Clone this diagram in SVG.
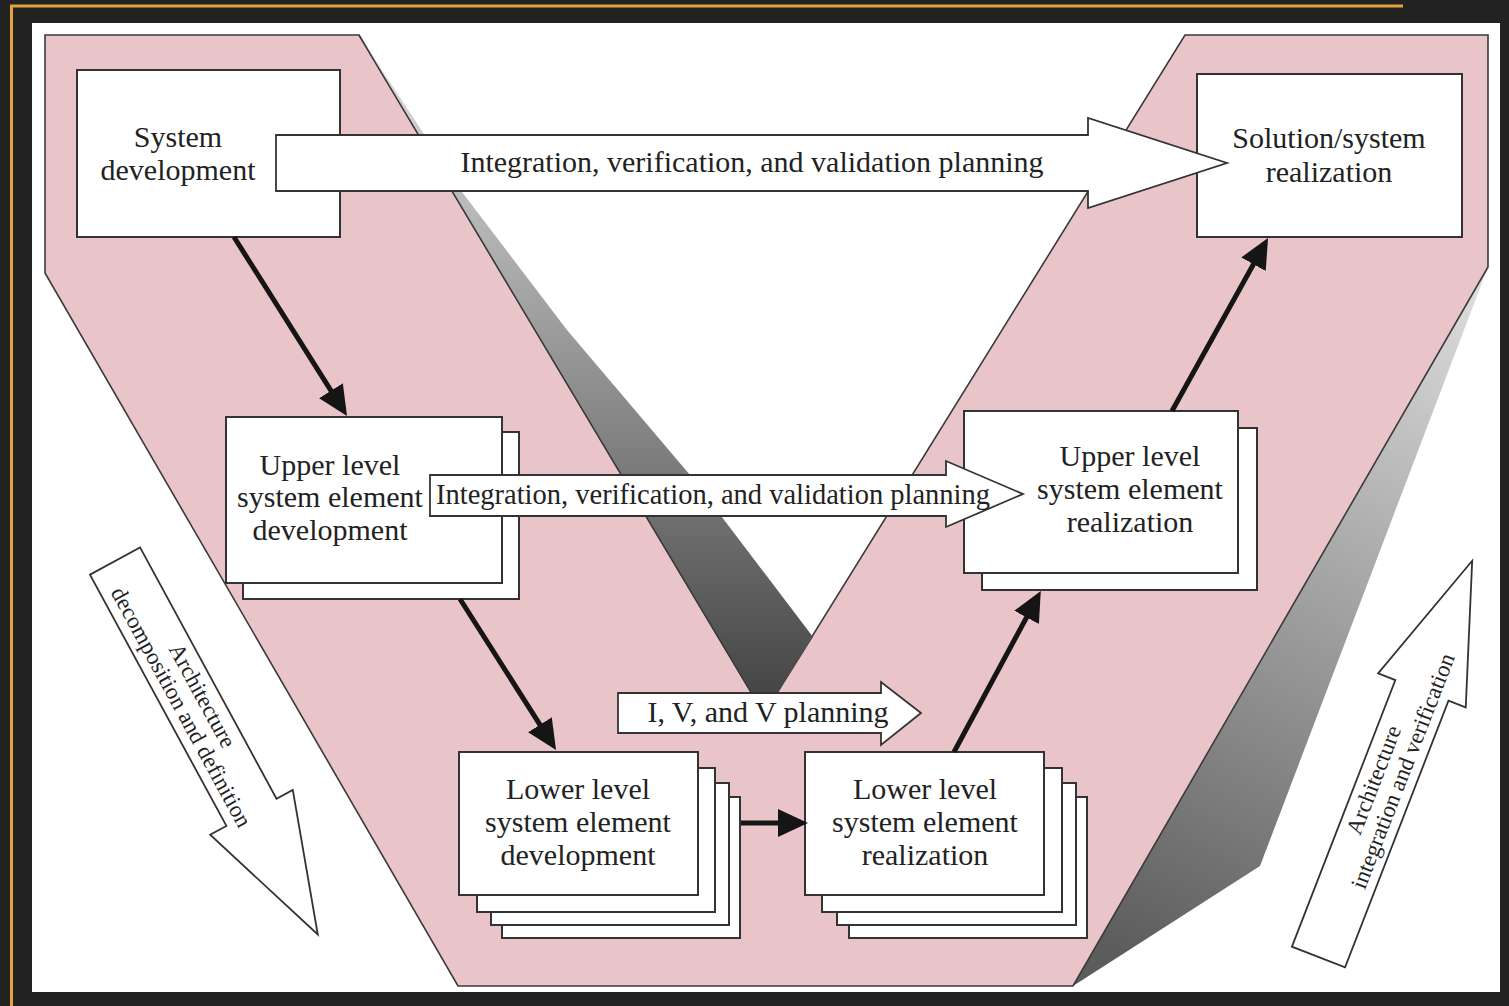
<svg xmlns="http://www.w3.org/2000/svg" width="1509" height="1006" viewBox="0 0 1509 1006">
  <style>
    .box { fill: #ffffff; stroke: #333333; stroke-width: 2; }
    .blk { fill: #ffffff; stroke: #333333; stroke-width: 1.8; stroke-linejoin: miter; }
    .lbl { font-family: "Liberation Serif", "Times New Roman", serif; font-size: 30px; fill: #222222; text-anchor: middle; }
    .mid { font-size: 28.5px; }
    .rot { font-family: "Liberation Serif", "Times New Roman", serif; font-size: 23px; fill: #222222; text-anchor: middle; }
    .con { stroke: #151515; stroke-width: 5; fill: none; marker-end: url(#ah); }
  </style>
  <defs>
    <marker id="ah" markerUnits="userSpaceOnUse" markerWidth="30" markerHeight="28" refX="18" refY="14" orient="auto">
      <path d="M0,0 L30,14 L0,28 z" fill="#151515"/>
    </marker>
    <linearGradient id="gV" gradientUnits="userSpaceOnUse" x1="0" y1="35" x2="0" y2="700">
      <stop offset="0" stop-color="#e2e2e2"/>
      <stop offset="1" stop-color="#444444"/>
    </linearGradient>
    <linearGradient id="gR" gradientUnits="userSpaceOnUse" x1="1480" y1="280" x2="1130" y2="960">
      <stop offset="0" stop-color="#dedede"/>
      <stop offset="1" stop-color="#5c5c5c"/>
    </linearGradient>
  </defs>

  <g id="background">
    <rect x="0" y="0" width="1509" height="1006" fill="#222222"/>
    <line x1="10" y1="6" x2="1403" y2="6" stroke="#e3a33e" stroke-width="3"/>
    <line x1="11.5" y1="5" x2="11.5" y2="1006" stroke="#e3a33e" stroke-width="3"/>
    <rect x="32" y="23" width="1468" height="969" fill="#ffffff"/>
  </g>

  <g id="v-shape">
    <polygon points="1488,267 1260,866 1073,986" fill="url(#gR)"/>
    <polygon points="45,35 359,35 764,714 1185,35 1488,35 1488,267 1073,986 458,986 45,273" fill="#e9c4c8" stroke="#3a3a3a" stroke-width="1.6" stroke-linejoin="miter"/>
    <polygon points="359,35 462,192 567,330 690,475 813,637 764,714" fill="url(#gV)"/>
    <line x1="359" y1="35" x2="764" y2="714" stroke="#3a3a3a" stroke-width="1.4"/>
  </g>

  <g id="system-development">
    <rect class="box" x="77" y="70" width="263" height="167"/>
    <text class="lbl" x="178" y="147">System</text>
    <text class="lbl" x="178" y="180">development</text>
  </g>

  <g id="solution-system-realization">
    <rect class="box" x="1197" y="74" width="265" height="163"/>
    <text class="lbl" x="1329" y="148">Solution/system</text>
    <text class="lbl" x="1329" y="182">realization</text>
  </g>

  <g id="upper-level-development">
    <rect class="box" x="243" y="432" width="276" height="167"/>
    <rect class="box" x="226" y="417" width="276" height="166"/>
    <text class="lbl" x="330" y="475">Upper level</text>
    <text class="lbl" x="330" y="507">system element</text>
    <text class="lbl" x="330" y="540">development</text>
  </g>

  <g id="upper-level-realization">
    <rect class="box" x="982" y="428" width="275" height="162"/>
    <rect class="box" x="964" y="411" width="274" height="162"/>
    <text class="lbl" x="1130" y="466">Upper level</text>
    <text class="lbl" x="1130" y="499">system element</text>
    <text class="lbl" x="1130" y="532">realization</text>
  </g>

  <g id="lower-level-development">
    <rect class="box" x="502" y="797" width="238" height="141"/>
    <rect class="box" x="491" y="783" width="238" height="142"/>
    <rect class="box" x="477" y="768" width="238" height="144"/>
    <rect class="box" x="459" y="752" width="239" height="143"/>
    <text class="lbl" x="578" y="799">Lower level</text>
    <text class="lbl" x="578" y="832">system element</text>
    <text class="lbl" x="578" y="865">development</text>
  </g>

  <g id="lower-level-realization">
    <rect class="box" x="849" y="797" width="238" height="141"/>
    <rect class="box" x="837" y="783" width="239" height="142"/>
    <rect class="box" x="822" y="768" width="240" height="144"/>
    <rect class="box" x="805" y="752" width="239" height="143"/>
    <text class="lbl" x="925" y="799">Lower level</text>
    <text class="lbl" x="925" y="832">system element</text>
    <text class="lbl" x="925" y="865">realization</text>
  </g>

  <g id="connectors">
    <line class="con" x1="234" y1="237" x2="340.6" y2="405.9"/>
    <line class="con" x1="460" y1="599" x2="549.6" y2="739.9"/>
    <line class="con" x1="741" y1="823" x2="796" y2="823"/>
    <line class="con" x1="954" y1="752" x2="1035.1" y2="601.5"/>
    <line class="con" x1="1172" y1="411" x2="1262.2" y2="248.5"/>
  </g>

  <g id="ivv-planning-top">
    <polygon class="blk" points="276,135 1088,135 1088,118 1227,163 1088,208 1088,191 276,191"/>
    <text class="lbl" x="752" y="172">Integration, verification, and validation planning</text>
  </g>

  <g id="ivv-planning-middle">
    <polygon class="blk" points="430,475 946,475 946,461 1023,494 946,527 946,516 430,516"/>
    <text class="lbl mid" x="713" y="504">Integration, verification, and validation planning</text>
  </g>

  <g id="ivv-planning-lower">
    <polygon class="blk" points="618,693 881,693 881,682 921,713 881,745 881,733 618,733"/>
    <text class="lbl" x="768" y="722">I, V, and V planning</text>
  </g>

  <g id="architecture-decomposition" transform="translate(115,561) rotate(61.5)">
    <polygon class="blk" points="0,-28.5 286,-28.5 286,-47 425,0 286,47 286,28.5 0,28.5"/>
    <text class="rot" x="160" y="-5">Architecture</text>
    <text class="rot" x="160" y="19">decomposition and definition</text>
  </g>

  <g id="architecture-integration" transform="translate(1318.5,957) rotate(-68.8)">
    <polygon class="blk" points="0,-28.5 286,-28.5 286,-47 425,0 286,47 286,28.5 0,28.5"/>
    <text class="rot" x="185" y="-5">Architecture</text>
    <text class="rot" x="204" y="19">integration and verification</text>
  </g>
</svg>
